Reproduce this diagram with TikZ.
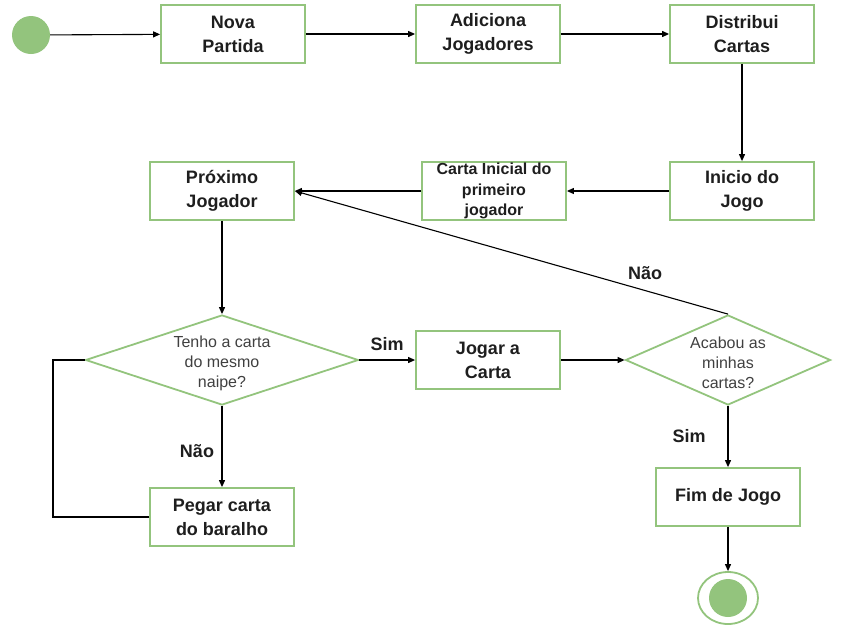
\documentclass[tikz,border=0pt]{standalone}
\usepackage{fontspec}
\setmainfont{Liberation Sans}
\usetikzlibrary{shapes.geometric,arrows.meta}
\definecolor{gr}{HTML}{93C47D}
\definecolor{txt}{HTML}{1E1E1E}
\begin{document}
\begin{tikzpicture}[x=1pt,y=-1pt,
  box/.style={draw=gr,line width=1.8pt,minimum width=144pt,minimum height=58pt,inner sep=0pt,align=center,text=txt,font=\fontsize{18}{24}\selectfont\bfseries},
  dia/.style={diamond,draw=gr,line width=1.8pt,inner sep=0pt},
  dtext/.style={inner sep=0pt,align=center,text=black!75,font=\fontsize{16}{20}\selectfont},
  arr/.style={-{Triangle[length=7pt,width=6pt]},line width=1.1pt},
  lnk/.style={line width=1.1pt},
  lbl/.style={font=\fontsize{18}{22}\selectfont\bfseries,text=txt,inner sep=0pt}]
\useasboundingbox (0,0) rectangle (848,635);
\node[circle,fill=gr,minimum size=38pt,inner sep=0pt] (start) at (31,35) {};
\node[box] (nova) at (233,34) {Nova\\Partida};
\node[box] (adic) at (488,34) {Adiciona\\Jogadores};
\node[box] (dist) at (742,34) {Distribui\\Cartas};
\node[box] (ini) at (742,191) {Inicio do\\Jogo};
\node[box,font=\fontsize{16}{20.5}\selectfont\bfseries] (carta) at (494,191) {Carta Inicial do\\primeiro\\jogador};
\node[box] (prox) at (222,191) {Próximo\\Jogador};
\node[dia,minimum width=273pt,minimum height=90pt] (d1) at (222,360) {};
\node[dtext] (d1t) at (222,363) {Tenho a carta\\do mesmo\\naipe?};
\node[box] (jogar) at (488,360) {Jogar a\\Carta};
\node[dia,minimum width=205pt,minimum height=90pt] (d2) at (728,360) {};
\node[dtext] (d2t) at (728,363) {Acabou as\\minhas\\cartas?};
\node[box] (fim) at (728,497) {Fim de Jogo};
\node[box] (pegar) at (222,517) {Pegar carta\\do baralho};
\node[ellipse,draw=gr,line width=1.8pt,minimum width=60pt,minimum height=52pt,inner sep=0pt] (end) at (728,598) {};
\node[circle,fill=gr,minimum size=38pt,inner sep=0pt] (endin) at (end.center) {};
\coordinate (loopx) at (53,0);
\draw[arr] (start) -- (nova);
\draw[arr] (nova) -- (adic);
\draw[arr] (adic) -- (dist);
\draw[arr] (dist) -- (ini);
\draw[arr] (ini) -- (carta);
\draw[arr] (carta) -- (prox);
\draw[arr] (prox) -- (d1);
\draw[arr] (d1) -- (jogar);
\draw[arr] (jogar) -- (d2);
\draw[arr] (d2.north) -- (prox.east);
\draw[arr] (d1) -- (pegar);
\draw[lnk] (pegar.west) -- (pegar.west -| loopx) -- (d1.west -| loopx) -- (d1.west);
\draw[arr] (d2) -- (fim);
\draw[arr] (fim) -- (end);
\node[lbl] (lsim1) at (387,344) {Sim};
\node[lbl] (lnao1) at (645,273) {Não};
\node[lbl] (lnao2) at (197,451) {Não};
\node[lbl] (lsim2) at (689,436) {Sim};
\end{tikzpicture}
\end{document}
